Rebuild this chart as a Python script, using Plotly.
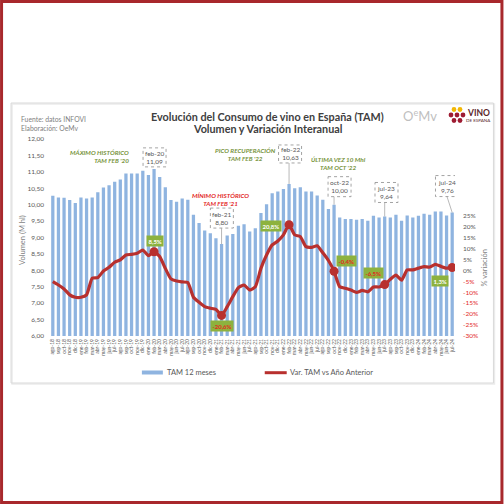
import plotly.graph_objects as go

# ---------------- data ----------------
month_abbr = ["ago", "sep", "oct", "nov", "dic", "ene", "feb", "mar", "abr", "may", "jun", "jul"]
start_years = [18, 19, 20, 21, 22, 23]
categories = []
for yy in start_years:
    for k, m in enumerate(month_abbr):
        categories.append(f"{m}-{yy if k < 5 else yy + 1}")

tam_12m = [10.27, 10.22, 10.21, 10.14, 10.05, 10.22, 10.19, 10.22, 10.38, 10.52, 10.59, 10.70,
           10.77, 10.95, 10.95, 10.95, 11.03, 10.90, 11.09, 10.84, 10.53, 10.14, 10.09, 10.19,
           10.15, 9.69, 9.44, 9.21, 9.13, 8.98, 8.80, 9.06, 9.11, 9.36, 9.40, 9.18,
           9.28, 9.75, 10.01, 10.35, 10.40, 10.48, 10.63, 10.50, 10.53, 10.40, 10.40, 10.28,
           10.15, 9.87, 10.00, 9.61, 9.56, 9.56, 9.54, 9.56, 9.51, 9.66, 9.61, 9.64,
           9.61, 9.69, 9.51, 9.67, 9.61, 9.66, 9.72, 9.69, 9.79, 9.79, 9.67, 9.76]

var_pct = [-5.2, -6.7, -8.5, -11.2, -12.3, -12.3, -11.2, -3.6, -3.3, -0.3, 1.4, 3.7,
           4.8, 7.0, 7.3, 7.8, 9.3, 6.7, 8.5, 6.3, 0.9, -3.9, -4.9, -5.3,
           -5.6, -12.3, -14.6, -16.6, -17.3, -17.8, -20.6, -16.6, -12.0, -7.9, -6.7, -9.0,
           -7.5, 0.9, 7.0, 11.6, 13.4, 16.2, 20.8, 16.2, 15.4, 10.8, 10.5, 11.2,
           8.0, 4.5, -0.4, -7.5, -8.2, -9.0, -10.1, -9.2, -9.8, -7.6, -7.6, -6.5,
           -4.1, -2.2, -4.5, 0.2, 0.2, 1.0, 1.7, 1.5, 2.7, 1.8, 1.0, 1.3]

left_ticks = [6.0, 6.5, 7.0, 7.5, 8.0, 8.5, 9.0, 9.5, 10.0, 10.5, 11.0, 11.5, 12.0]
right_ticks = [-30, -25, -20, -15, -10, -5, 0, 5, 10, 15, 20, 25]

# highlighted points on the variation line
var_marks = [18, 30, 42, 50, 59, 71]
# callout boxes on bars
bar_callouts = [18, 30, 42, 50, 59, 71]

# ---------------- styling helpers ----------------
L, T, W, H = 50, 139, 405.5, 197
def px2x(px):
    return (px - L) / W
def py2y(py):
    return 1 - (py - T) / H

def es(v, d=2):
    return f"{v:.{d}f}".replace(".", ",")

BAR = "#8FB4E0"
RED = "#B8302E"
GREEN_TXT = "#77933C"
GREEN_BOX = "#8DB23E"
RED_TXT = "#E3281F"
GREY = "#595959"
FONT = "Lato"

fig = go.Figure()
fig.add_bar(x=categories, y=tam_12m, marker_color=BAR, marker_line_width=0,
            name="TAM 12 meses", yaxis="y", hoverinfo="skip")
fig.add_scatter(x=categories, y=var_pct, mode="lines", yaxis="y2",
                line=dict(color=RED, width=3.2, shape="spline", smoothing=0.5),
                name="Var. TAM vs Año Anterior")
fig.add_scatter(x=[categories[i] for i in var_marks], y=[var_pct[i] for i in var_marks],
                mode="markers", yaxis="y2", marker=dict(size=9, color=RED), showlegend=False)

shapes = []
annotations = []

# outer red frame and inner chart box
shapes.append(dict(type="rect", xref="paper", yref="paper", x0=px2x(1.5), x1=px2x(502.5),
                   y0=py2y(502.5), y1=py2y(1.5), line=dict(color="#A8282C", width=3)))
shapes.append(dict(type="rect", xref="paper", yref="paper", x0=px2x(12), x1=px2x(495),
                   y0=py2y(384), y1=py2y(104), line=dict(color="#EBEBEB", width=1.5)))
shapes.append(dict(type="rect", xref="paper", yref="paper", x0=px2x(11), x1=px2x(494),
                   y0=py2y(383), y1=py2y(103), line=dict(color="#D9D9D9", width=1)))

# bar callouts (dashed boxes + connectors), offsets in pixels relative to bar top
callout_geom = {
    18: dict(cx=0.5, top=-21, bot=-2, conn=None),
    30: dict(cx=0.3, top=-36, bot=-16, conn=0),
    42: dict(cx=1.0, top=-39, bot=-21, conn=0),
    50: dict(cx=5.5, top=-28, bot=-8, conn=0),
    59: dict(cx=1.8, top=-34, bot=-14, conn=0),
    71: dict(cx=-5.2, top=-37, bot=-16, conn=-5.2),
}
for i in bar_callouts:
    g = callout_geom[i]
    c = categories[i]
    shapes.append(dict(type="rect", xref="x", yref="y", xsizemode="pixel", ysizemode="pixel",
                       xanchor=c, yanchor=tam_12m[i], x0=g["cx"] - 11.5, x1=g["cx"] + 11.5,
                       y0=-g["top"], y1=-g["bot"], line=dict(color="#8C8C8C", width=0.8, dash="dot"),
                       fillcolor="rgba(255,255,255,0)"))
    if g["conn"] is not None:
        shapes.append(dict(type="line", xref="x", yref="y", xsizemode="pixel", ysizemode="pixel",
                           xanchor=c, yanchor=tam_12m[i], x0=g["conn"], x1=0,
                           y0=-g["bot"], y1=0, line=dict(color="#A6A6A6", width=0.8)))
    annotations.append(dict(x=c, y=tam_12m[i], xref="x", yref="y", showarrow=False,
                            xshift=g["cx"], yshift=-(g["top"] + g["bot"]) / 2,
                            text=f"{c}<br>{es(tam_12m[i])}", align="center",
                            font=dict(size=6.5, color=GREY, family=FONT)))

# labels on the variation line
lab_geom = {18: (1, 11, "white"), 30: (0, -10.5, RED_TXT), 42: (-18, -1, "white"),
            50: (12.5, 10, RED_TXT), 59: (-10.7, 12, RED_TXT), 71: (-11.7, -13.6, "white")}
for i in var_marks:
    dx, dy, col = lab_geom[i]
    annotations.append(dict(x=categories[i], y=var_pct[i], xref="x", yref="y2", showarrow=False,
                            xshift=dx, yshift=dy, text=f"<b>{es(var_pct[i], 1)}%</b>",
                            bgcolor=GREEN_BOX, borderpad=1.5,
                            font=dict(size=6, color=col, family=FONT)))

# commentary texts
def txt(px, py, text, size, color, xanchor="center", align="center", angle=0, family=FONT):
    annotations.append(dict(x=px2x(px), y=py2y(py), xref="paper", yref="paper", showarrow=False,
                            text=text, xanchor=xanchor, yanchor="middle", align=align,
                            textangle=angle, font=dict(size=size, color=color, family=family)))

txt(131, 156.5, "<b><i>MÁXIMO HISTÓRICO<br>TAM FEB '20</i></b>", 6.3, GREEN_TXT, xanchor="right", align="right")
txt(246, 154, "<b><i>PICO RECUPERACIÓN<br>TAM FEB '22</i></b>", 6.3, GREEN_TXT)
txt(221, 199, "<b><i>MÍNIMO HISTÓRICO<br>TAM FEB '21</i></b>", 6.3, RED_TXT)
txt(338.5, 163.8, "<b><i>ÚLTIMA VEZ 10 Mhl<br>TAM OCT '22</i></b>", 6.3, GREEN_TXT)

# titles and source
txt(268, 116, "<b>Evolución del Consumo de vino en España (TAM)</b>", 10.8, "#404040")
txt(268, 128.5, "<b>Volumen y Variación Interanual</b>", 10.8, "#404040")
txt(19, 118.5, "Fuente: datos INFOVI", 6.8, "#7F7F7F", xanchor="left", align="left")
txt(19, 128, "Elaboración: OeMv", 6.8, "#7F7F7F", xanchor="left", align="left")

# axis titles
txt(22, 240, "Volumen (M hl)", 7.5, "#7F7F7F", angle=-90)
txt(485, 268, "% variación", 7.5, "#7F7F7F", angle=-90)

# logos
txt(420, 115, "O<sup>e</sup>Mv", 13, "#BFBFBF")
for (gx, gy, gc) in [(454.5, 109.5, "#F2B705"), (460.5, 109.5, "#F2B705"),
                     (451.5, 115, "#9E1B32"), (457.5, 115, "#9E1B32"), (463.5, 115, "#9E1B32"),
                     (454.5, 120.5, "#9E1B32"), (460.5, 120.5, "#9E1B32")]:
    shapes.append(dict(type="circle", xref="paper", yref="paper", x0=px2x(gx - 2.4), x1=px2x(gx + 2.4),
                       y0=py2y(gy + 2.4), y1=py2y(gy - 2.4), fillcolor=gc, line=dict(width=0)))
txt(479.5, 113.5, "<b>VINO</b>", 8.5, "#5A1F2B")
txt(479.5, 120.5, "DE ESPAÑA", 4.5, "#5A1F2B")

# manual legend
shapes.append(dict(type="rect", xref="paper", yref="paper", x0=px2x(142), x1=px2x(163),
                   y0=py2y(374.5), y1=py2y(370.5), fillcolor=BAR, line=dict(width=0)))
txt(165, 372.5, "TAM 12 meses", 7.5, GREY, xanchor="left", align="left")
shapes.append(dict(type="line", xref="paper", yref="paper", x0=px2x(265), x1=px2x(287),
                   y0=py2y(372.7), y1=py2y(372.7), line=dict(color=RED, width=3)))
txt(288, 372.5, "Var. TAM vs Año Anterior", 7.5, GREY, xanchor="left", align="left")

right_text = [f'<span style="color:{RED_TXT}">{v}%</span>' if v < 0 else f"{v}%" for v in right_ticks]

fig.update_layout(
    width=504, height=504,
    margin=dict(l=L, r=504 - L - W, t=T, b=504 - T - H, pad=0),
    paper_bgcolor="white", plot_bgcolor="white",
    font=dict(family=FONT, color=GREY),
    showlegend=False,
    bargap=0.42,
    shapes=shapes,
    annotations=annotations,
    xaxis=dict(type="category", categoryorder="array", categoryarray=categories,
               range=[-0.5, len(categories) - 0.5], tickmode="array", tickvals=categories,
               ticktext=categories, tickangle=-90, tickfont=dict(size=5, color=GREY),
               showgrid=False, showline=False, zeroline=False, ticks="", ticklabelstandoff=1),
    yaxis=dict(range=[6, 12], tickmode="array", tickvals=left_ticks,
               ticktext=[es(v) for v in left_ticks], tickfont=dict(size=6.5, color=GREY),
               showgrid=False, zeroline=False, showline=False, ticks="", ticklabelstandoff=5),
    yaxis2=dict(range=[-30, 60], overlaying="y", side="right", tickmode="array",
                tickvals=right_ticks, ticktext=right_text, tickfont=dict(size=6.5, color=GREY),
                showgrid=False, zeroline=False, showline=False, ticks="", ticklabelstandoff=7),
)

fig.write_html("out.html", config={"displayModeBar": False},
               post_script="document.body.style.margin='0';document.body.style.overflow='hidden';")
